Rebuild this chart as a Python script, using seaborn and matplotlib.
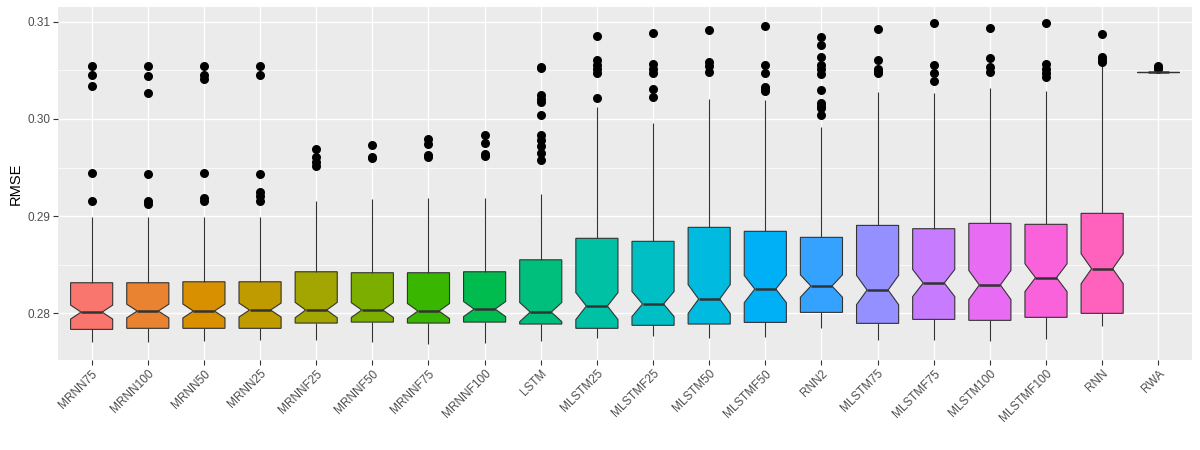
import matplotlib
matplotlib.use('Agg')
import matplotlib.pyplot as plt
from matplotlib.ticker import MultipleLocator, FormatStrFormatter
import seaborn as sns
import pandas as pd

# box hinges, medians, whisker ends and outliers
models = ['MRNN75', 'MRNN100', 'MRNN50', 'MRNN25', 'MRNNF25', 'MRNNF50',
          'MRNNF75', 'MRNNF100', 'LSTM', 'MLSTM25', 'MLSTMF25', 'MLSTM50',
          'MLSTMF50', 'RNN2', 'MLSTM75', 'MLSTMF75', 'MLSTM100', 'MLSTMF100',
          'RNN', 'RWA']
q1 = [0.27835, 0.27846, 0.27846, 0.27846, 0.27900, 0.27910, 0.27900, 0.27910,
      0.27890, 0.27846, 0.27877, 0.27890, 0.27907, 0.28010, 0.27897, 0.27938,
      0.27928, 0.27959, 0.28000, 0.30486]
med = [0.28013, 0.28024, 0.28024, 0.28034, 0.28034, 0.28034, 0.28024, 0.28044,
       0.28013, 0.28075, 0.28096, 0.28147, 0.28250, 0.28281, 0.28240, 0.28312,
       0.28292, 0.28367, 0.28459, 0.30486]
q3 = [0.28315, 0.28315, 0.28325, 0.28325, 0.28428, 0.28418, 0.28418, 0.28428,
      0.28551, 0.28772, 0.28741, 0.28885, 0.28844, 0.28782, 0.28905, 0.28871,
      0.28926, 0.28916, 0.29029, 0.30486]
whisk_lo = [0.27708, 0.27708, 0.27718, 0.27728, 0.27728, 0.27708, 0.27687, 0.27698,
            0.27718, 0.27749, 0.27770, 0.27749, 0.27759, 0.27852, 0.27728, 0.27728,
            0.27718, 0.27739, 0.27872, 0.30486]
whisk_hi = [0.28994, 0.28994, 0.28994, 0.28994, 0.29155, 0.29176, 0.29186, 0.29186,
            0.29227, 0.30122, 0.29958, 0.30205, 0.30195, 0.29917, 0.30277, 0.30265,
            0.30318, 0.30287, 0.30547, 0.30486]
outliers = [
    [0.30544, 0.30449, 0.30335, 0.29440, 0.29152],
    [0.30544, 0.30438, 0.30263, 0.29430, 0.29152, 0.29128],
    [0.30544, 0.30449, 0.30414, 0.29440, 0.29186, 0.29152],
    [0.30544, 0.30449, 0.29430, 0.29245, 0.29210, 0.29152],
    [0.29687, 0.29611, 0.29560, 0.29519],
    [0.29728, 0.29605, 0.29595],
    [0.29790, 0.29739, 0.29625, 0.29605],
    [0.29831, 0.29749, 0.29635, 0.29615],
    [0.30534, 0.30520, 0.30243, 0.30202, 0.30171, 0.30037, 0.29831, 0.29783,
     0.29721, 0.29646, 0.29574],
    [0.30853, 0.30603, 0.30552, 0.30510, 0.30470, 0.30212],
    [0.30881, 0.30562, 0.30518, 0.30477, 0.30305, 0.30222],
    [0.30912, 0.30583, 0.30545, 0.30483],
    [0.30953, 0.30552, 0.30477, 0.30334, 0.30305, 0.30288],
    [0.30843, 0.30757, 0.30637, 0.30555, 0.30510, 0.30463, 0.30297, 0.30160,
     0.30136, 0.30115, 0.30037],
    [0.30922, 0.30603, 0.30518, 0.30487, 0.30477],
    [0.30984, 0.30552, 0.30477, 0.30387],
    [0.30932, 0.30623, 0.30531, 0.30487],
    [0.30984, 0.30566, 0.30510, 0.30477, 0.30428],
    [0.30870, 0.30633, 0.30610, 0.30590],
    [0.30545, 0.30530, 0.30515],
]
n_runs = 110  # runs per model, judged from the notch widths

# ggplot default hue palette for 20 levels
colors = ['#F8766D', '#EA8331', '#D89000', '#C09B00', '#A3A500', '#7CAE00',
          '#39B600', '#00BB4E', '#00BF7D', '#00C1A3', '#00BFC4', '#00BAE0',
          '#00B0F6', '#35A2FF', '#9590FF', '#C77CFF', '#E76BF3', '#FA62DB',
          '#FF62BC', '#FF6C91']

# sample per model that reproduces the read quartiles / whiskers / outliers
block = n_runs // 2 - 2
rows = []
for i, m in enumerate(models):
    fl = outliers[i]
    vals = ([whisk_lo[i]] + [q1[i]] * block + [med[i]] * 2
            + [q3[i]] * (block - len(fl)) + [whisk_hi[i]] + fl)
    for v in vals:
        rows.append((m, v))
df = pd.DataFrame(rows, columns=['model', 'RMSE'])

sns.set_theme(style='darkgrid', rc={
    'axes.facecolor': '#EBEBEB',
    'grid.color': 'white',
    'grid.linewidth': 1.0,
    'figure.facecolor': 'white',
})
plt.rcParams['font.family'] = ['Liberation Sans', 'DejaVu Sans']

fig, ax = plt.subplots(figsize=(12, 4.5), dpi=100)
fig.subplots_adjust(left=0.0483, right=0.9933, top=0.9844, bottom=0.2)

sns.boxplot(data=df, x='model', y='RMSE', order=models, hue='model',
            hue_order=models, palette=colors, saturation=1, legend=False,
            notch=True, showcaps=False, width=0.75, linecolor='#333333',
            linewidth=0.8, medianprops={'linewidth': 1.8},
            flierprops={'marker': 'o', 'markerfacecolor': 'black',
                        'markeredgecolor': 'black', 'markeredgewidth': 0,
                        'markersize': 6.5},
            ax=ax)

ax.set_xlim(-0.6, len(models) - 0.4)
ax.set_ylim(0.2752, 0.31152)
ax.yaxis.set_major_locator(MultipleLocator(0.01))
ax.yaxis.set_major_formatter(FormatStrFormatter('%.2f'))
ax.yaxis.set_minor_locator(MultipleLocator(0.005))
ax.grid(which='minor', axis='y', color='white', linewidth=0.5)
ax.grid(which='major', color='white', linewidth=1.0)
ax.tick_params(which='major', length=3.5, width=0.8, color='#333333',
               labelcolor='#4D4D4D', labelsize=8.5, bottom=True, left=True, pad=2)
ax.tick_params(which='minor', length=0)
plt.setp(ax.get_xticklabels(), rotation=45, ha='right', rotation_mode='anchor')
ax.set_xlabel('')
ax.set_ylabel('RMSE', fontsize=10.5, color='black', labelpad=3)
for s in ax.spines.values():
    s.set_visible(False)

fig.savefig('out.png', dpi=100)
